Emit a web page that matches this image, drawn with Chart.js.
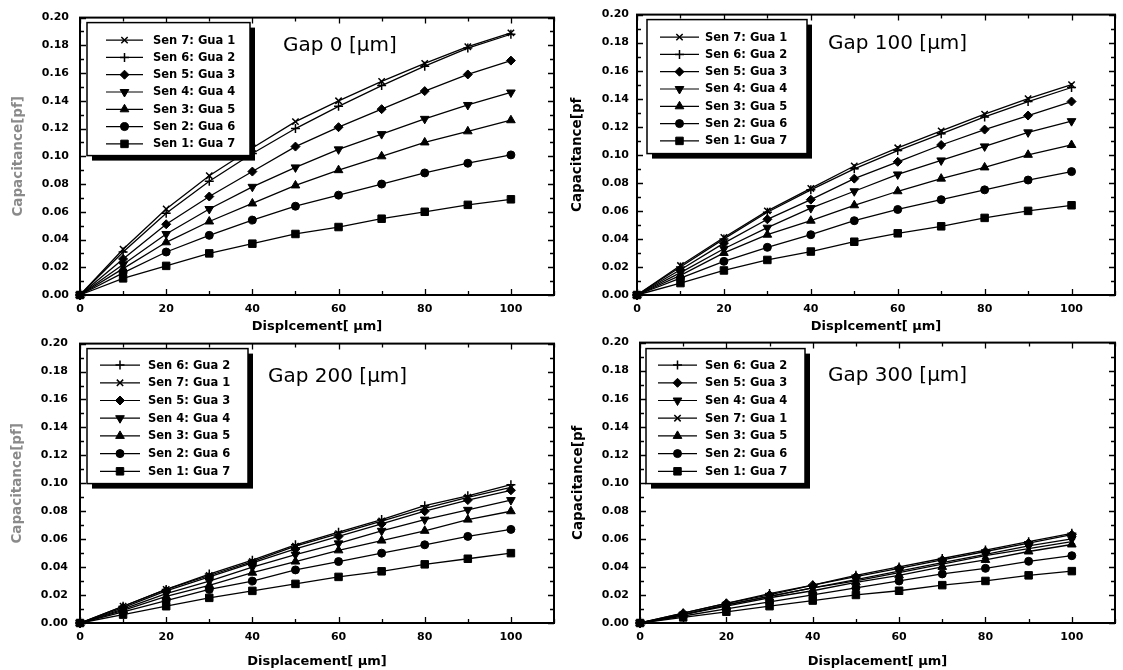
<!DOCTYPE html>
<html>
<head>
<meta charset="utf-8">
<script src="https://cdn.jsdelivr.net/npm/chart.js@4.4.1/dist/chart.umd.min.js"></script>
<style>
  html, body { margin: 0; padding: 0; background: #fff; }
  #wrap { position: relative; width: 1123px; height: 670px; overflow: hidden; }
  canvas { position: absolute; }
</style>
</head>
<body>
<div id="wrap">
  <canvas id="gap0"></canvas>
  <canvas id="gap100"></canvas>
  <canvas id="gap200"></canvas>
  <canvas id="gap300"></canvas>
</div>
<script>
// ---- data ----
const displacement = [0, 10, 20, 30, 40, 50, 60, 70, 80, 90, 100];

const xTickValues = [0, 10, 20, 30, 40, 50, 60, 70, 80, 90, 100, 110];
const xTickLabels = ["0", "", "20", "", "40", "", "60", "", "80", "", "100", ""];
const yTickValues = [0, 0.01, 0.02, 0.03, 0.04, 0.05, 0.06, 0.07, 0.08, 0.09, 0.1,
  0.11, 0.12, 0.13, 0.14, 0.15, 0.16, 0.17, 0.18, 0.19, 0.2];
const yTickLabels = ["0.00", "", "0.02", "", "0.04", "", "0.06", "", "0.08", "", "0.10",
  "", "0.12", "", "0.14", "", "0.16", "", "0.18", "", "0.20"];

// Gap 0
const gap0Sen7 = [0, 0.033, 0.062, 0.086, 0.106, 0.125, 0.140, 0.154, 0.167, 0.179, 0.189];
const gap0Sen6 = [0, 0.031, 0.059, 0.082, 0.102, 0.120, 0.136, 0.151, 0.165, 0.178, 0.188];
const gap0Sen5 = [0, 0.026, 0.051, 0.071, 0.089, 0.107, 0.121, 0.134, 0.147, 0.159, 0.169];
const gap0Sen4 = [0, 0.022, 0.044, 0.062, 0.078, 0.092, 0.105, 0.116, 0.127, 0.137, 0.146];
const gap0Sen3 = [0, 0.019, 0.038, 0.053, 0.066, 0.079, 0.090, 0.100, 0.110, 0.118, 0.126];
const gap0Sen2 = [0, 0.016, 0.031, 0.043, 0.054, 0.064, 0.072, 0.080, 0.088, 0.095, 0.101];
const gap0Sen1 = [0, 0.012, 0.021, 0.030, 0.037, 0.044, 0.049, 0.055, 0.060, 0.065, 0.069];

// Gap 100
const gap100Sen7 = [0, 0.021, 0.041, 0.060, 0.076, 0.092, 0.105, 0.117, 0.129, 0.140, 0.150];
const gap100Sen6 = [0, 0.020, 0.040, 0.059, 0.075, 0.090, 0.103, 0.115, 0.127, 0.138, 0.148];
const gap100Sen5 = [0, 0.018, 0.037, 0.054, 0.068, 0.083, 0.095, 0.107, 0.118, 0.128, 0.138];
const gap100Sen4 = [0, 0.016, 0.033, 0.048, 0.062, 0.074, 0.086, 0.096, 0.106, 0.116, 0.124];
const gap100Sen3 = [0, 0.014, 0.030, 0.043, 0.053, 0.064, 0.074, 0.083, 0.091, 0.100, 0.107];
const gap100Sen2 = [0, 0.012, 0.024, 0.034, 0.043, 0.053, 0.061, 0.068, 0.075, 0.082, 0.088];
const gap100Sen1 = [0, 0.0085, 0.0175, 0.025, 0.031, 0.038, 0.044, 0.049, 0.055, 0.060, 0.064];

// Gap 200
const gap200Sen6 = [0, 0.012, 0.024, 0.035, 0.045, 0.056, 0.065, 0.074, 0.084, 0.091, 0.099];
const gap200Sen7 = [0, 0.012, 0.024, 0.034, 0.044, 0.055, 0.064, 0.073, 0.082, 0.090, 0.097];
const gap200Sen5 = [0, 0.011, 0.023, 0.033, 0.043, 0.053, 0.062, 0.071, 0.080, 0.088, 0.095];
const gap200Sen4 = [0, 0.010, 0.021, 0.030, 0.040, 0.049, 0.057, 0.066, 0.074, 0.081, 0.088];
const gap200Sen3 = [0, 0.009, 0.019, 0.027, 0.036, 0.044, 0.052, 0.059, 0.066, 0.074, 0.080];
const gap200Sen2 = [0, 0.008, 0.016, 0.024, 0.030, 0.038, 0.044, 0.050, 0.056, 0.062, 0.067];
const gap200Sen1 = [0, 0.006, 0.012, 0.018, 0.023, 0.028, 0.033, 0.037, 0.042, 0.046, 0.050];

// Gap 300
const gap300Sen6 = [0, 0.007, 0.014, 0.021, 0.027, 0.034, 0.040, 0.046, 0.052, 0.058, 0.064];
const gap300Sen5 = [0, 0.007, 0.014, 0.020, 0.027, 0.033, 0.039, 0.045, 0.051, 0.057, 0.063];
const gap300Sen4 = [0, 0.006, 0.013, 0.019, 0.025, 0.031, 0.037, 0.043, 0.049, 0.055, 0.060];
const gap300Sen7 = [0, 0.006, 0.013, 0.019, 0.025, 0.030, 0.036, 0.042, 0.048, 0.053, 0.058];
const gap300Sen3 = [0, 0.006, 0.012, 0.018, 0.023, 0.029, 0.034, 0.040, 0.045, 0.051, 0.056];
const gap300Sen2 = [0, 0.005, 0.010, 0.015, 0.020, 0.025, 0.030, 0.035, 0.039, 0.044, 0.048];
const gap300Sen1 = [0, 0.004, 0.008, 0.012, 0.016, 0.020, 0.023, 0.027, 0.030, 0.034, 0.037];

// ---- marker per sensor ----
const SENSOR_STYLE = {
  7: { label: "Sen 7: Gua 1", pointStyle: "crossRot", radius: 4.5, rotation: 0, bw: 1.5 },
  6: { label: "Sen 6: Gua 2", pointStyle: "cross", radius: 4.5, rotation: 0, bw: 1.5 },
  5: { label: "Sen 5: Gua 3", pointStyle: "rectRot", radius: 4.5, rotation: 0, bw: 1 },
  4: { label: "Sen 4: Gua 4", pointStyle: "triangle", radius: 5, rotation: 180, bw: 1 },
  3: { label: "Sen 3: Gua 5", pointStyle: "triangle", radius: 5, rotation: 0, bw: 1 },
  2: { label: "Sen 2: Gua 6", pointStyle: "circle", radius: 4, rotation: 0, bw: 1 },
  1: { label: "Sen 1: Gua 7", pointStyle: "rect", radius: 5.3, rotation: 0, bw: 1 },
};

const FONT = '"DejaVu Sans", "Liberation Sans", sans-serif';

/* ---------------- frame, inward ticks, legend box, gap title ---------------- */
const panelDeco = {
  id: "panelDeco",
  beforeDatasetsDraw(chart) {
    const { ctx, chartArea: a } = chart;
    const xs = chart.scales.x;
    const ys = chart.scales.y;
    ctx.save();
    ctx.strokeStyle = "#000";
    ctx.lineWidth = 1.3;
    ctx.beginPath();
    xs.ticks.forEach((t, i) => {
      const px = Math.round(xs.getPixelForValue(t.value)) + 0.5;
      const len = xTickLabels[i] ? 6 : 4;
      ctx.moveTo(px, a.bottom); ctx.lineTo(px, a.bottom - len);
      ctx.moveTo(px, a.top); ctx.lineTo(px, a.top + len);
    });
    ys.ticks.forEach((t, i) => {
      const py = Math.round(ys.getPixelForValue(t.value)) + 0.5;
      const len = yTickLabels[i] ? 6 : 4;
      ctx.moveTo(a.left, py); ctx.lineTo(a.left + len, py);
      ctx.moveTo(a.right, py); ctx.lineTo(a.right - len, py);
    });
    ctx.stroke();
    ctx.lineWidth = 2;
    ctx.strokeRect(a.left, a.top, a.right - a.left, a.bottom - a.top);
    ctx.restore();
  },
  afterDatasetsDraw(chart, _args, opts) {
    const { ctx, chartArea: a } = chart;
    const L = opts.legend;
    const bx = a.left + L.x;
    const by = a.top + L.y;
    ctx.save();
    // drop shadow + box
    ctx.fillStyle = "#000";
    ctx.fillRect(bx + 5, by + 5, L.w, L.h);
    ctx.fillStyle = "#fff";
    ctx.fillRect(bx, by, L.w, L.h);
    ctx.strokeStyle = "#000";
    ctx.lineWidth = 1.5;
    ctx.strokeRect(bx, by, L.w, L.h);

    ctx.font = "bold 11.5px " + FONT;
    ctx.textBaseline = "middle";
    ctx.textAlign = "left";
    chart.data.datasets.forEach((ds, i) => {
      const y = by + L.row0 + i * L.step;
      ctx.strokeStyle = "#000";
      ctx.fillStyle = "#000";
      ctx.lineWidth = 1.2;
      ctx.beginPath();
      ctx.moveTo(bx + L.l0, y);
      ctx.lineTo(bx + L.l1, y);
      ctx.stroke();
      ctx.lineWidth = ds.pointBorderWidth;
      Chart.helpers.drawPoint(ctx, {
        pointStyle: ds.pointStyle,
        rotation: ds.pointRotation,
        radius: ds.pointRadius,
        borderWidth: ds.pointBorderWidth,
      }, bx + (L.l0 + L.l1) / 2, y);
      ctx.fillStyle = "#000";
      ctx.fillText(ds.label, bx + L.tx, y + 0.5);
    });

    // Gap title
    ctx.font = "20px " + FONT;
    ctx.fillStyle = "#000";
    ctx.fillText(opts.title, a.left + opts.titleAt[0], a.top + opts.titleAt[1]);
    ctx.restore();
  },
};

/* ---------------------------- panel layout ---------------------------- */
const panels = [
  {
    id: "gap0", left: 0, top: 0, w: 562, h: 335,
    area: { l: 80, t: 14, r: 558, b: 295 },
    order: [7, 6, 5, 4, 3, 2, 1],
    series: { 7: gap0Sen7, 6: gap0Sen6, 5: gap0Sen5, 4: gap0Sen4, 3: gap0Sen3, 2: gap0Sen2, 1: gap0Sen1 },
    title: "Gap 0 [\u03bcm]", titleAt: [203, 28],
    xTitle: "Displcement[ \u03bcm]", yTitle: "Capacitance[pf]", yTitleColor: "#8a8a8a", yTitlePad: 10, yTickPad: 11,
    legend: { x: 7, y: 5, w: 163, h: 133, row0: 17.5, step: 17.3, l0: 19, l1: 56, tx: 66 },
  },
  {
    id: "gap100", left: 562, top: 0, w: 561, h: 335,
    area: { l: 75, t: 14, r: 554, b: 295 },
    order: [7, 6, 5, 4, 3, 2, 1],
    series: { 7: gap100Sen7, 6: gap100Sen6, 5: gap100Sen5, 4: gap100Sen4, 3: gap100Sen3, 2: gap100Sen2, 1: gap100Sen1 },
    title: "Gap 100 [\u03bcm]", titleAt: [191, 29],
    xTitle: "Displcement[ \u03bcm]", yTitle: "Capacitance[pf", yTitleColor: "#000", yTitlePad: 7, yTickPad: 8,
    legend: { x: 10, y: 5, w: 160, h: 134, row0: 17.5, step: 17.3, l0: 13, l1: 52, tx: 58 },
  },
  {
    id: "gap200", left: 0, top: 325, w: 562, h: 345,
    area: { l: 80, t: 12, r: 557, b: 298 },
    order: [6, 7, 5, 4, 3, 2, 1],
    series: { 6: gap200Sen6, 7: gap200Sen7, 5: gap200Sen5, 4: gap200Sen4, 3: gap200Sen3, 2: gap200Sen2, 1: gap200Sen1 },
    title: "Gap 200 [\u03bcm]", titleAt: [188, 33],
    xTitle: "Displacement[ \u03bcm]", yTitle: "Capacitance[pf]", yTitleColor: "#8a8a8a", yTitlePad: 9, yTickPad: 12,
    legend: { x: 7, y: 5, w: 161, h: 135, row0: 16.5, step: 17.7, l0: 13, l1: 53, tx: 61 },
  },
  {
    id: "gap300", left: 562, top: 325, w: 561, h: 345,
    area: { l: 78, t: 12, r: 553, b: 298 },
    order: [6, 5, 4, 7, 3, 2, 1],
    series: { 6: gap300Sen6, 5: gap300Sen5, 4: gap300Sen4, 7: gap300Sen7, 3: gap300Sen3, 2: gap300Sen2, 1: gap300Sen1 },
    title: "Gap 300 [\u03bcm]", titleAt: [188, 33],
    xTitle: "Displacement[ \u03bcm]", yTitle: "Capacitance[pf", yTitleColor: "#000", yTitlePad: 8, yTickPad: 11,
    legend: { x: 6, y: 6, w: 159, h: 135, row0: 16.5, step: 17.7, l0: 12, l1: 51, tx: 59 },
  },
];

function buildDatasets(p) {
  return p.order.map((s) => {
    const st = SENSOR_STYLE[s];
    return {
      label: st.label,
      data: displacement.map((d, i) => ({ x: d, y: p.series[s][i] })),
      borderColor: "#000",
      backgroundColor: "#000",
      borderWidth: 1.3,
      pointStyle: st.pointStyle,
      pointRadius: st.radius,
      pointRotation: st.rotation,
      pointBorderWidth: st.bw,
      pointBackgroundColor: "#000",
      pointBorderColor: "#000",
      tension: 0,
      clip: false,
    };
  });
}

panels.forEach((p) => {
  const el = document.getElementById(p.id);
  el.width = p.w;
  el.height = p.h;
  el.style.left = p.left + "px";
  el.style.top = p.top + "px";

  new Chart(el.getContext("2d"), {
    type: "line",
    data: { datasets: buildDatasets(p) },
    options: {
      responsive: false,
      animation: false,
      events: [],
      layout: { padding: { left: 0, top: p.area.t, right: p.w - p.area.r, bottom: 0 } },
      plugins: {
        legend: { display: false },
        tooltip: { enabled: false },
        panelDeco: { legend: p.legend, title: p.title, titleAt: p.titleAt },
      },
      scales: {
        x: {
          type: "linear",
          min: 0,
          max: 110,
          afterBuildTicks: (s) => { s.ticks = xTickValues.map((v) => ({ value: v })); },
          afterFit: (s) => { s.height = p.h - p.area.b; },
          grid: { display: false, drawTicks: false },
          border: { display: false },
          ticks: {
            autoSkip: false,
            maxRotation: 0,
            padding: 8,
            color: "#000",
            font: { family: FONT, size: 11, weight: "bold" },
            callback: (v, i) => xTickLabels[i],
          },
          title: {
            display: true,
            text: p.xTitle,
            color: "#000",
            padding: { top: 0, bottom: 1 },
            font: { family: FONT, size: 13, weight: "bold" },
          },
        },
        y: {
          type: "linear",
          min: 0,
          max: 0.2,
          afterBuildTicks: (s) => { s.ticks = yTickValues.map((v) => ({ value: v })); },
          afterFit: (s) => { s.width = p.area.l; },
          grid: { display: false, drawTicks: false },
          border: { display: false },
          ticks: {
            autoSkip: false,
            padding: p.yTickPad,
            color: "#000",
            font: { family: FONT, size: 11, weight: "bold" },
            callback: (v, i) => yTickLabels[i],
          },
          title: {
            display: true,
            text: p.yTitle,
            color: p.yTitleColor,
            padding: { top: p.yTitlePad, bottom: 0 },
            font: { family: FONT, size: 13.5, weight: "bold" },
          },
        },
      },
    },
    plugins: [panelDeco],
  });
});
</script>
</body>
</html>
